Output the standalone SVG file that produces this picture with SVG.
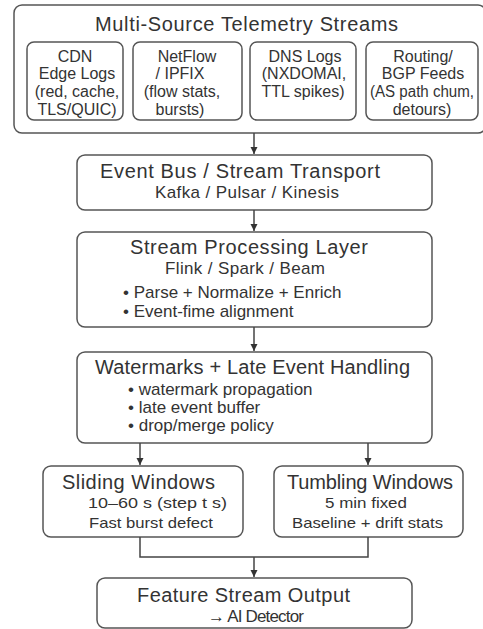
<svg xmlns="http://www.w3.org/2000/svg" width="483" height="629" viewBox="0 0 483 629">
  <defs>
    <marker id="arr" markerWidth="8" markerHeight="8" refX="7" refY="4" orient="auto" markerUnits="userSpaceOnUse">
      <path d="M0,0.5 L7,4 L0,7.5 Z" fill="#333"/>
    </marker>
    <style>
      .box { fill: #fff; stroke: #555; stroke-width: 1.5; }
      .conn { fill: none; stroke: #444; stroke-width: 1.5; }
      text { font-family: "Liberation Sans", Arial, sans-serif; fill: #333; }
      .t1 { font-size: 20px; }
      .t2 { font-size: 17px; }
      .t3 { font-size: 16px; }
      .t4 { font-size: 15px; }
      .m { text-anchor: middle; }
    </style>
  </defs>
  <rect width="483" height="629" fill="#fff"/>

  <g id="telemetry">
    <rect class="box" x="14" y="5" width="472" height="128" rx="8"/>
    <text class="t1" x="95" y="31" textLength="303">Multi-Source Telemetry Streams</text>
  </g>
  <g id="cdn">
    <rect class="box" x="27" y="42" width="96" height="78" rx="7"/>
    <text class="t3 m" x="75" y="62">CDN</text>
    <text class="t3 m" x="77" y="79">Edge Logs</text>
    <text class="t3 m" x="77" y="97">(red, cache,</text>
    <text class="t3 m" x="77" y="115">TLS/QUIC)</text>
  </g>
  <g id="netflow">
    <rect class="box" x="133" y="42" width="109" height="78" rx="7"/>
    <text class="t3 m" x="187" y="62">NetFlow</text>
    <text class="t3 m" x="180" y="79">/ IPFIX</text>
    <text class="t3 m" x="182" y="97">(flow stats,</text>
    <text class="t3 m" x="180" y="115">bursts)</text>
  </g>
  <g id="dns">
    <rect class="box" x="250" y="42" width="106" height="78" rx="7"/>
    <text class="t3 m" x="305" y="62">DNS Logs</text>
    <text class="t3 m" x="304" y="79">(NXDOMAI,</text>
    <text class="t3 m" x="303" y="97">TTL spikes)</text>
  </g>
  <g id="routing">
    <rect class="box" x="366" y="42" width="112" height="78" rx="7"/>
    <text class="t3 m" x="423" y="62">Routing/</text>
    <text class="t3 m" x="423" y="79">BGP Feeds</text>
    <text class="t3 m" x="422" y="97" textLength="104" lengthAdjust="spacingAndGlyphs">(AS path chum,</text>
    <text class="t3 m" x="422" y="115">detours)</text>
  </g>

  <g id="eventbus">
    <rect class="box" x="77" y="155" width="355" height="55" rx="8"/>
    <text class="t1" x="100" y="178" textLength="280">Event Bus / Stream Transport</text>
    <text class="t2" x="155" y="198" textLength="184">Kafka / Pulsar / Kinesis</text>
  </g>

  <g id="processing">
    <rect class="box" x="77" y="232" width="355" height="95" rx="8"/>
    <text class="t1" x="130" y="254" textLength="238">Stream Processing Layer</text>
    <text class="t2" x="165" y="274" textLength="160">Flink / Spark / Beam</text>
    <text class="t2" x="123" y="298">• Parse + Normalize + Enrich</text>
    <text class="t2" x="123" y="317">• Event-fime alignment</text>
  </g>

  <g id="watermarks">
    <rect class="box" x="77" y="352" width="355" height="91" rx="8"/>
    <text class="t1" x="95" y="374" textLength="315">Watermarks + Late Event Handling</text>
    <text class="t2" x="128" y="395">• watermark propagation</text>
    <text class="t2" x="128" y="413">• late event buffer</text>
    <text class="t2" x="128" y="431">• drop/merge policy</text>
  </g>

  <g id="sliding">
    <rect class="box" x="43" y="466" width="200" height="71" rx="8"/>
    <text class="t1" x="62" y="489" textLength="153">Sliding Windows</text>
    <text class="t4" x="88" y="508" textLength="139" lengthAdjust="spacingAndGlyphs">10–60 s (step t s)</text>
    <text class="t4" x="89" y="528" textLength="124" lengthAdjust="spacingAndGlyphs">Fast burst defect</text>
  </g>

  <g id="tumbling">
    <rect class="box" x="274" y="466" width="189" height="71" rx="8"/>
    <text class="t1" x="287" y="489" textLength="166">Tumbling Windows</text>
    <text class="t4" x="325" y="508" textLength="82" lengthAdjust="spacingAndGlyphs">5 min fixed</text>
    <text class="t4" x="292" y="528" textLength="151" lengthAdjust="spacingAndGlyphs">Baseline + drift stats</text>
  </g>

  <g id="output">
    <rect class="box" x="97" y="578" width="315" height="50" rx="8"/>
    <text class="t1" x="137" y="602" textLength="213">Feature Stream Output</text>
    <text class="t2" x="208" y="622" textLength="96">→ AI Detector</text>
  </g>

  <g id="connectors">
    <line class="conn" x1="254" y1="133" x2="254" y2="154" marker-end="url(#arr)"/>
    <line class="conn" x1="254" y1="210" x2="254" y2="231" marker-end="url(#arr)"/>
    <line class="conn" x1="254" y1="327" x2="254" y2="351" marker-end="url(#arr)"/>
    <line class="conn" x1="140" y1="443" x2="140" y2="465" marker-end="url(#arr)"/>
    <line class="conn" x1="368" y1="443" x2="368" y2="465" marker-end="url(#arr)"/>
    <path class="conn" d="M140,537 V557 H368 V537"/>
    <line class="conn" x1="254" y1="557" x2="254" y2="577" marker-end="url(#arr)"/>
  </g>
</svg>
